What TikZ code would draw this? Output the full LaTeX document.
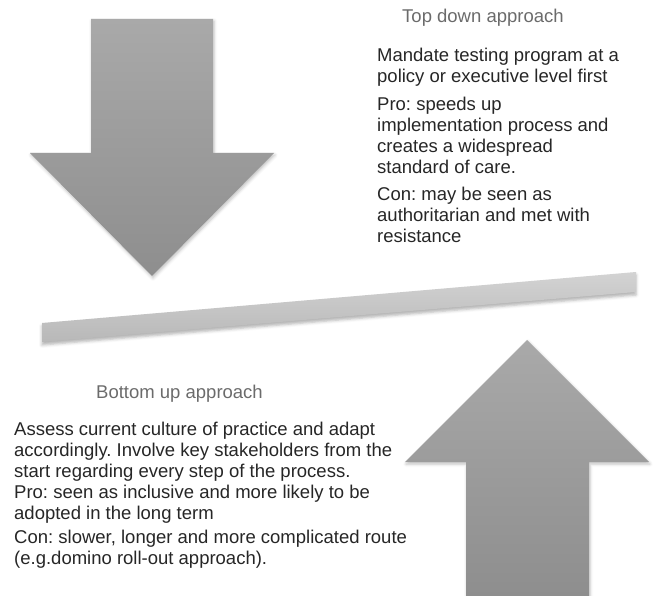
\documentclass[tikz,border=0pt]{standalone}
\usepackage{fontspec}
\setmainfont{Liberation Sans}
\usetikzlibrary{positioning, shadows.blur}
\definecolor{arrTop}{HTML}{A9A9A9}
\definecolor{arrBot}{HTML}{8E8E8E}
\definecolor{barTop}{HTML}{D3D3D3}
\definecolor{barBot}{HTML}{B8B8B8}
\definecolor{ttlGray}{HTML}{6B6B6B}
\definecolor{bodyInk}{HTML}{262626}
\newcommand{\txtsize}{\fontsize{18.5}{20.8}\selectfont}
\frenchspacing

\begin{document}
\begin{tikzpicture}[x=1pt, y=-1pt, blockarr/.style={draw=none, top color=arrTop, bottom color=arrBot, blur shadow={shadow xshift=1pt, shadow yshift=-2pt, shadow blur radius=3pt, shadow opacity=25}},beam/.style={draw=none, top color=barTop, bottom color=barBot, blur shadow={shadow xshift=0pt, shadow yshift=-3pt, shadow blur radius=3pt, shadow opacity=30}},ttl/.style={font=\txtsize, text=ttlGray, inner sep=0pt, anchor=base west},body/.style={font=\txtsize, text=bodyInk, align=left, inner sep=0pt, anchor=base west}]
\useasboundingbox (0,0) rectangle (662,596);
% block arrows and the tilted beam
\path[blockarr] (91,19) -- (213,19) -- (213,153) -- (274,153) -- (152,276) -- (30,153) -- (91,153) -- cycle;
\path[beam] (42,323) -- (636,272) -- (636,292) -- (42,342) -- cycle;
\path[blockarr] (527,340) -- (649,462) -- (589,462) -- (589,596) -- (466,596) -- (466,462) -- (405,462) -- cycle;
% top down side (base = last line)
\node[ttl] (topttl) at (402,22.5) {Top down approach};
\node[body] (topmand) at (377,82.3) {Mandate testing program at a\\policy or executive level first};
\node[body] (toppro) at (377,173.3) {Pro: speeds up\\implementation process and\\creates a widespread\\standard of care.};
\node[body] (topcon) at (377,242.3) {Con: may be seen as\\authoritarian and met with\\resistance};
% bottom up side
\node[ttl] (botttl) at (96,398.5) {Bottom up approach};
\node[body] (botassess) at (14,519) {Assess current culture of practice and adapt\\accordingly. Involve key stakeholders from the\\start regarding every step of the process.\\Pro: seen as inclusive and more likely to be\\adopted in the long term};
\node[body] (botcon) at (14,564) {Con: slower, longer and more complicated route\\(e.g.domino roll-out approach).};
\end{tikzpicture}
\end{document}
